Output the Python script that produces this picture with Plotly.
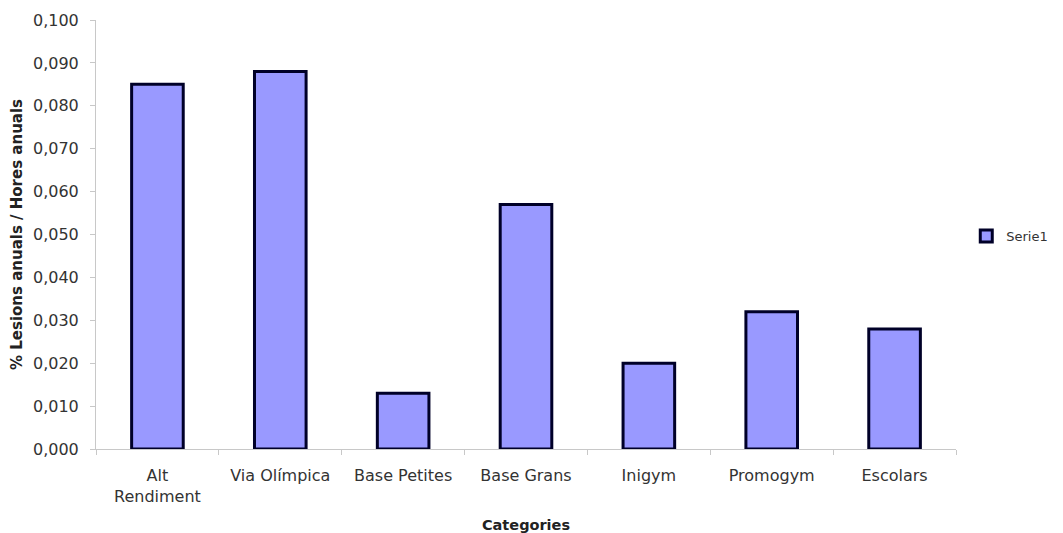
import plotly.graph_objects as go

categories = ["Alt<br>Rendiment", "Via Olímpica", "Base Petites", "Base Grans",
              "Inigym", "Promogym", "Escolars"]
values = [0.085, 0.088, 0.013, 0.057, 0.020, 0.032, 0.028]
series_name = "Serie1"

font_family = "Verdana, DejaVu Sans, sans-serif"

fig = go.Figure()
fig.add_trace(go.Bar(
    x=categories,
    y=values,
    name=series_name,
    marker=dict(color="#9999ff", line=dict(color="#000028", width=3)),
    width=0.42,
    showlegend=True,
))

fig.update_layout(
    width=1063,
    height=533,
    margin=dict(l=96, r=107, t=20, b=84, autoexpand=False),
    paper_bgcolor="white",
    plot_bgcolor="white",
    font=dict(family=font_family, size=16, color="#333333"),
    separators=",.",
    legend=dict(
        xref="container", yref="container",
        x=0.909, y=0.557, xanchor="left", yanchor="middle",
        font=dict(family=font_family, size=13, color="#333333"),
        itemwidth=30,
    ),
    xaxis=dict(
        type="category",
        automargin=False,
        showline=True, linecolor="#c8c8c8", linewidth=1,
        ticks="outside", tickson="boundaries", ticklen=5, tickcolor="#c8c8c8",
        ticklabelstandoff=12,
        showgrid=False,
        tickfont=dict(family=font_family, size=16, color="#333333"),
        title=dict(text="<b>Categories</b>", standoff=28,
                   font=dict(family=font_family, size=14.5, color="#222222")),
    ),
    yaxis=dict(
        range=[0, 0.1],
        automargin=False,
        tickvals=[i / 100 for i in range(11)],
        tickformat=".3f",
        showline=True, linecolor="#c8c8c8", linewidth=1,
        ticks="outside", ticklen=5, tickcolor="#c8c8c8",
        ticklabelstandoff=8,
        showgrid=False, zeroline=False,
        tickfont=dict(family=font_family, size=16, color="#333333"),
        title=dict(text="<b>% Lesions anuals / Hores anuals</b>", standoff=6,
                   font=dict(family=font_family, size=15, color="#222222")),
    ),
)

fig.write_html("out.html")
